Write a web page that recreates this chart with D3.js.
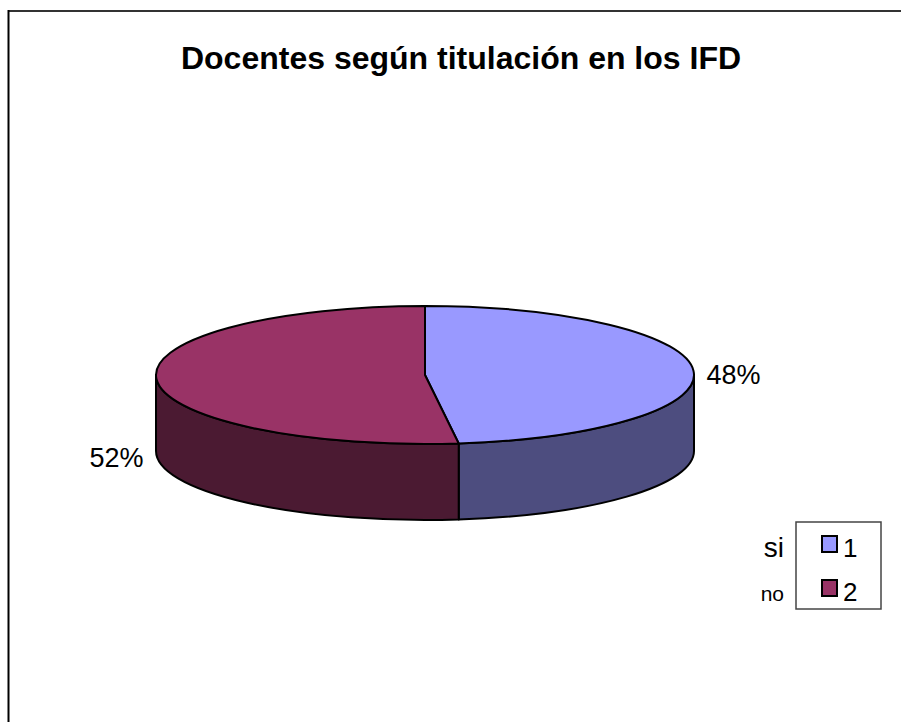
<!DOCTYPE html>
<html>
<head>
<meta charset="utf-8">
<script src="https://cdn.jsdelivr.net/npm/d3@7"></script>
<style>
  body { margin: 0; background: #fff; }
  svg text { font-family: "Liberation Sans", Arial, sans-serif; fill: #000; }
</style>
</head>
<body>
<div id="chart"></div>
<script>
// chart data
const categories = ['si', 'no'];
const legendKeys = ['1', '2'];
const values = [48, 52];
const topColors = ['#9999ff', '#993366'];
const sideColors = ['#4d4d7f', '#4b1a32'];
const title = 'Docentes según titulación en los IFD';

const width = 901, height = 722;
const svg = d3.select('#chart').append('svg')
    .attr('width', width)
    .attr('height', height);

// frame (only top and left edges are visible in the crop)
svg.append('line')
    .attr('x1', 8).attr('y1', 11).attr('x2', width).attr('y2', 11)
    .style('stroke', '#333').style('stroke-width', 2);
svg.append('line')
    .attr('x1', 8.5).attr('y1', 10).attr('x2', 8.5).attr('y2', height)
    .style('stroke', '#000').style('stroke-width', 2);

svg.append('text')
    .attr('x', 461)
    .attr('y', 69)
    .attr('text-anchor', 'middle')
    .style('font-size', '32px')
    .style('font-weight', 'bold')
    .text(title);

// 3d pie geometry
const cx = 425, cy = 375, rx = 269, ry = 69, depth = 76;
const pt = (a, dy = 0) => [cx + rx * Math.sin(a), cy - ry * Math.cos(a) + dy];

const pie = d3.pie().sort(null).startAngle(0).endAngle(2 * Math.PI);
const arcs = pie(values).map((d, i) => ({ ...d, i }));

function topPath(d) {
    const s = pt(d.startAngle), e = pt(d.endAngle);
    const large = d.endAngle - d.startAngle > Math.PI ? 1 : 0;
    return `M${cx},${cy}L${s[0]},${s[1]}A${rx},${ry} 0 ${large} 1 ${e[0]},${e[1]}Z`;
}

function sidePath(d) {
    // only the front half of the rim is visible
    const a0 = Math.max(d.startAngle, Math.PI / 2);
    const a1 = Math.min(d.endAngle, 3 * Math.PI / 2);
    if (a1 <= a0) return null;
    const s = pt(a0), e = pt(a1), eb = pt(a1, depth), sb = pt(a0, depth);
    return `M${s[0]},${s[1]}A${rx},${ry} 0 0 1 ${e[0]},${e[1]}` +
        `L${eb[0]},${eb[1]}A${rx},${ry} 0 0 0 ${sb[0]},${sb[1]}Z`;
}

const g = svg.append('g');
g.selectAll('.side')
    .data(arcs.filter(d => sidePath(d)))
    .enter().append('path')
    .attr('class', 'side')
    .attr('d', sidePath)
    .style('fill', d => sideColors[d.i])
    .style('stroke', '#000')
    .style('stroke-width', 2)
    .style('stroke-linejoin', 'round');

g.selectAll('.top')
    .data(arcs)
    .enter().append('path')
    .attr('class', 'top')
    .attr('d', topPath)
    .style('fill', d => topColors[d.i])
    .style('stroke', '#000')
    .style('stroke-width', 2)
    .style('stroke-linejoin', 'round');

// percent labels
const total = d3.sum(values);
g.selectAll('.pct')
    .data(arcs)
    .enter().append('text')
    .attr('class', 'pct')
    .each(function (d) {
        const mid = (d.startAngle + d.endAngle) / 2;
        const p = pt(mid);
        const right = Math.sin(mid) > 0;
        d3.select(this)
            .attr('x', right ? p[0] + 13 : p[0] - 13)
            .attr('y', right ? p[1] + 13 : p[1] + depth + 12)
            .attr('text-anchor', right ? 'start' : 'end');
    })
    .style('font-size', '27px')
    .text(d => Math.round(d.data / total * 100) + '%');

// legend
const legend = svg.append('g');
legend.append('rect')
    .attr('x', 796).attr('y', 522)
    .attr('width', 85).attr('height', 87)
    .style('fill', '#fff')
    .style('stroke', '#444')
    .style('stroke-width', 1.5);

const yLeg = d3.scalePoint().domain(legendKeys).range([544, 588]);

legend.selectAll('.sw')
    .data(legendKeys)
    .enter().append('rect')
    .attr('x', 822)
    .attr('y', d => yLeg(d) - 8)
    .attr('width', 15).attr('height', 16)
    .style('fill', (d, i) => topColors[i])
    .style('stroke', '#000')
    .style('stroke-width', 2);

legend.selectAll('.key')
    .data(legendKeys)
    .enter().append('text')
    .attr('x', 843)
    .attr('y', d => yLeg(d) + 13)
    .style('font-size', '26px')
    .text(d => d);

legend.selectAll('.cat')
    .data(categories)
    .enter().append('text')
    .attr('x', 784)
    .attr('y', (d, i) => yLeg(legendKeys[i]) + 13)
    .attr('text-anchor', 'end')
    .style('font-size', (d, i) => i === 0 ? '28px' : '21px')
    .text(d => d);
</script>
</body>
</html>
